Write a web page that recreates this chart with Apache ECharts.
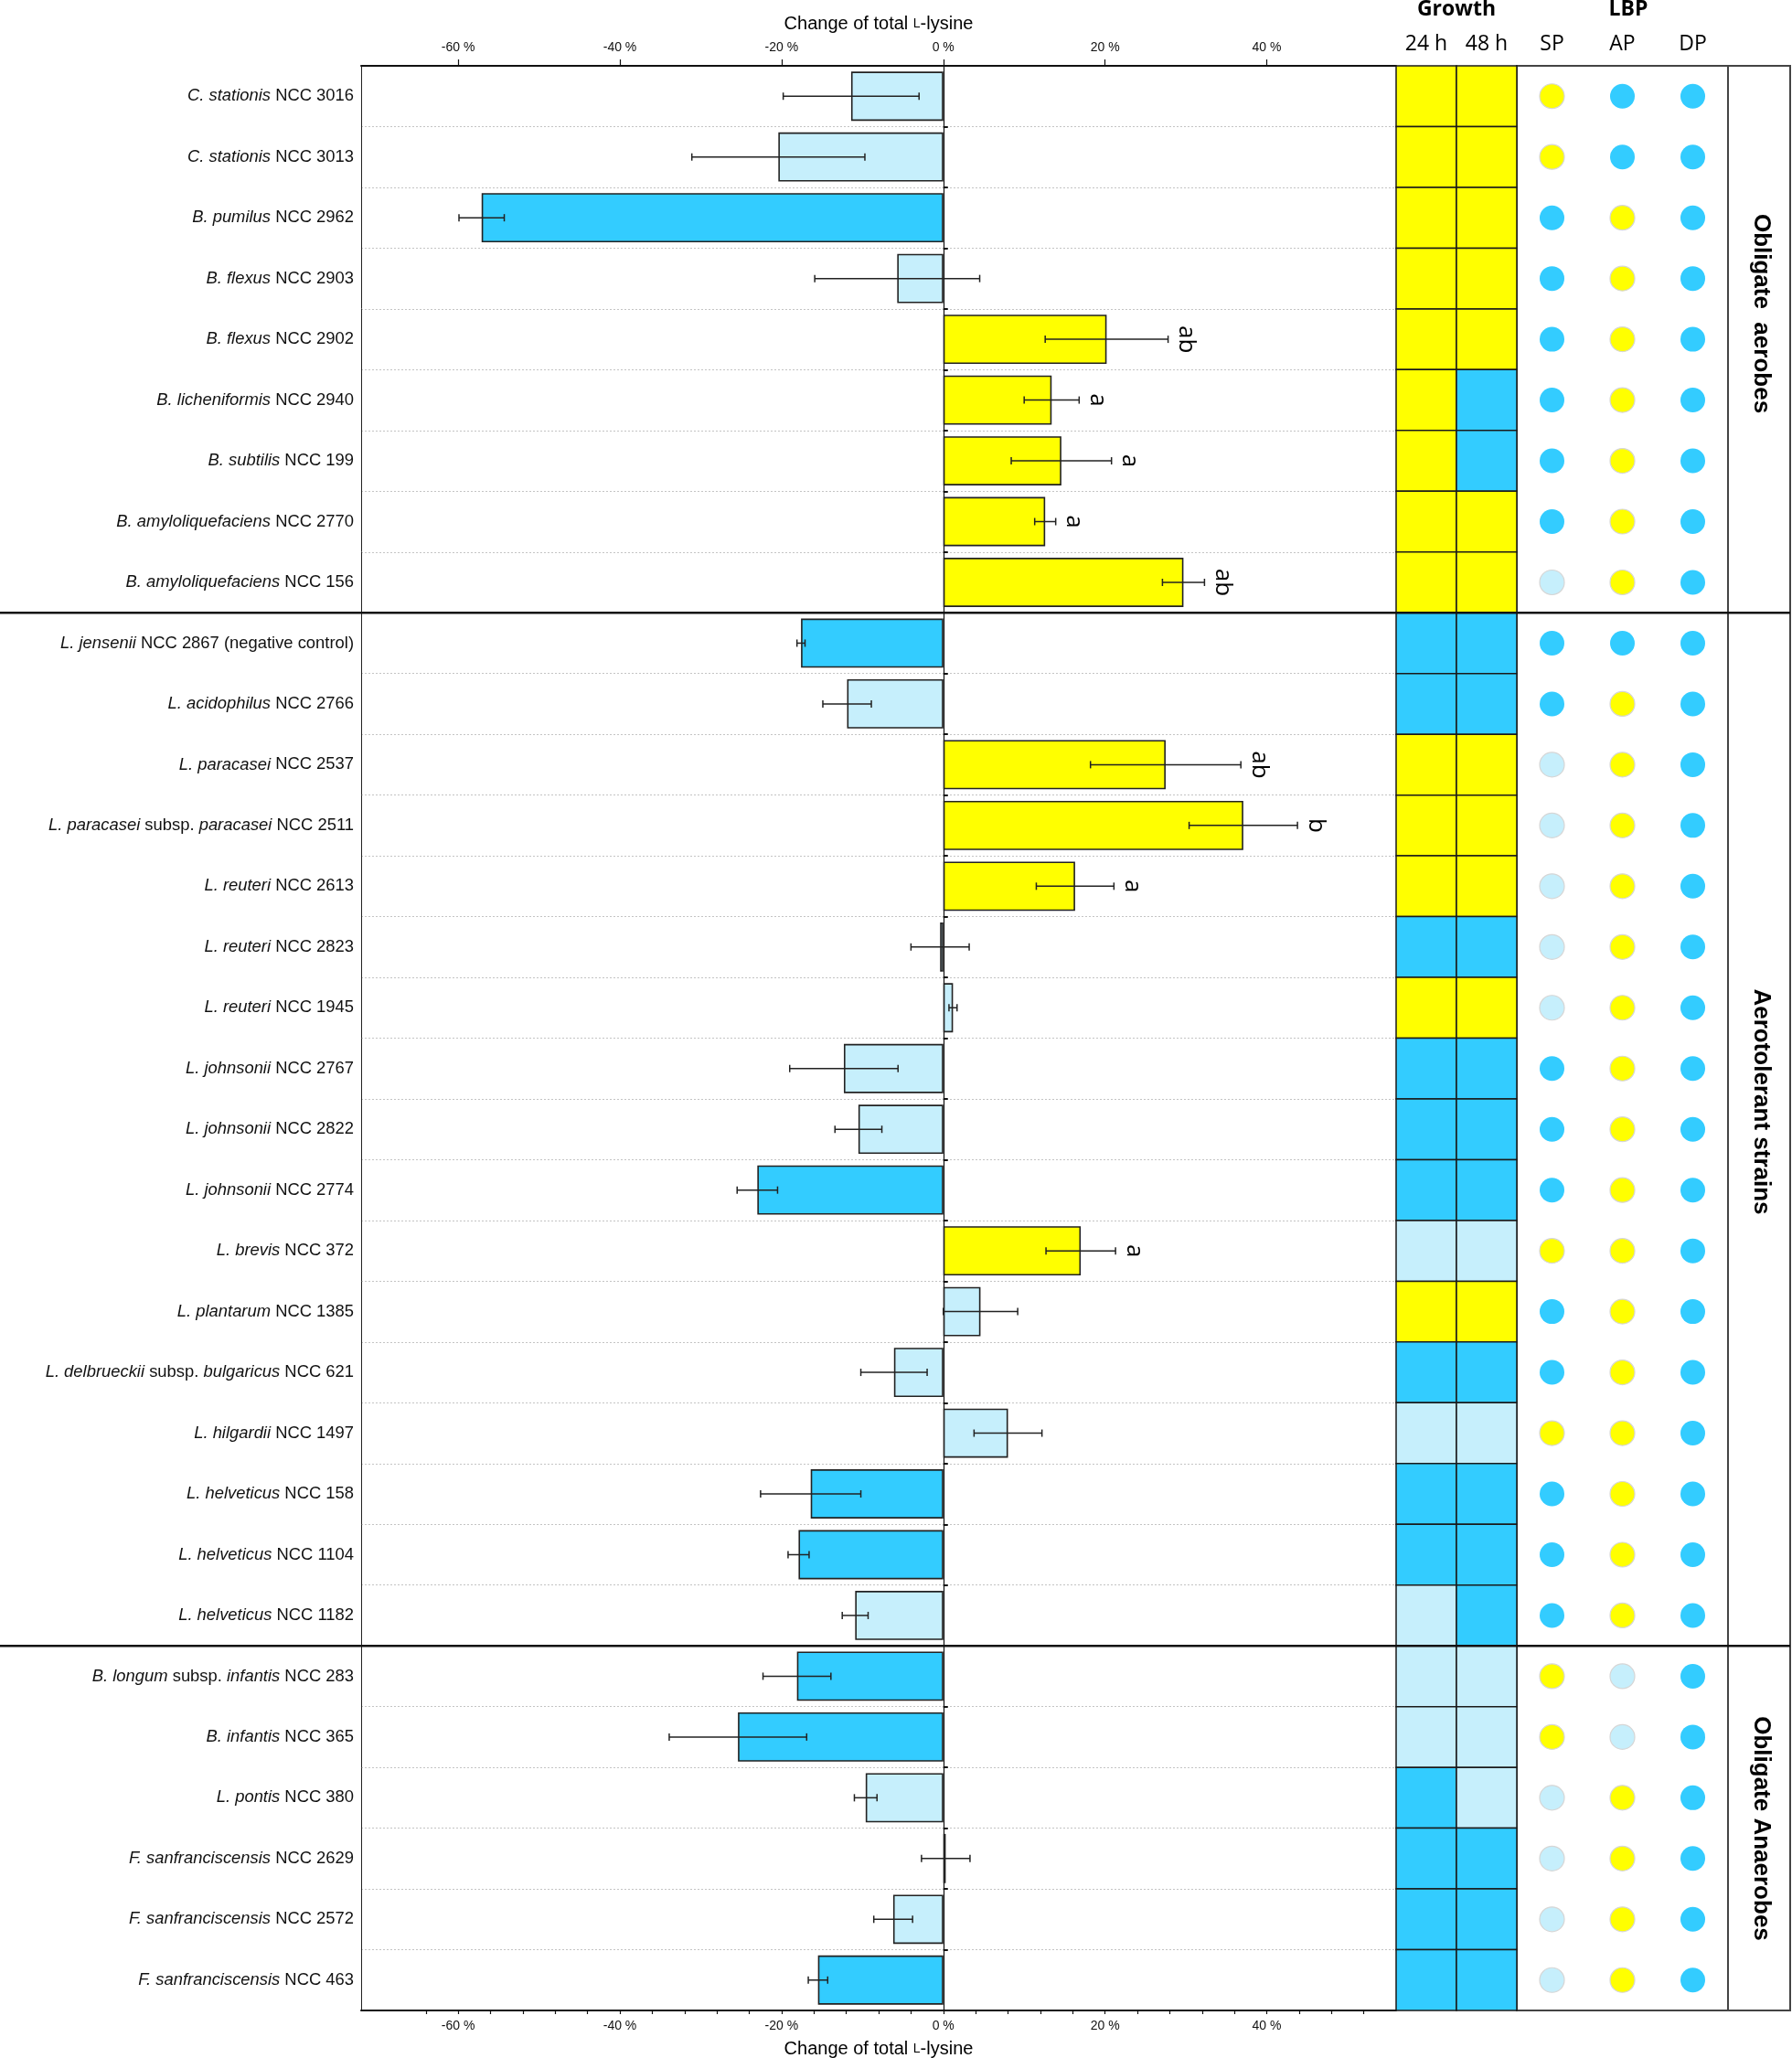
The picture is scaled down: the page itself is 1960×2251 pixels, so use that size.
<!DOCTYPE html>
<html><head><meta charset="utf-8">
<script src="https://cdn.jsdelivr.net/npm/echarts@6/dist/echarts.min.js"></script>
<style>html,body{margin:0;padding:0;background:#fff}#c{width:1960px;height:2251px}</style>
</head><body><div id="c"></div>
<script>
// ---------------- DATA ----------------
const strains = [
  'C. stationis NCC 3016','C. stationis NCC 3013','B. pumilus NCC 2962','B. flexus NCC 2903','B. flexus NCC 2902',
  'B. licheniformis NCC 2940','B. subtilis NCC 199','B. amyloliquefaciens NCC 2770','B. amyloliquefaciens NCC 156',
  'L. jensenii NCC 2867 (negative control)','L. acidophilus NCC 2766','L. paracasei NCC 2537','L. paracasei subsp. paracasei NCC 2511',
  'L. reuteri NCC 2613','L. reuteri NCC 2823','L. reuteri NCC 1945','L. johnsonii NCC 2767','L. johnsonii NCC 2822','L. johnsonii NCC 2774',
  'L. brevis NCC 372','L. plantarum NCC 1385','L. delbrueckii subsp. bulgaricus NCC 621','L. hilgardii NCC 1497',
  'L. helveticus NCC 158','L. helveticus NCC 1104','L. helveticus NCC 1182',
  'B. longum subsp. infantis NCC 283','B. infantis NCC 365','L. pontis NCC 380',
  'F. sanfranciscensis NCC 2629','F. sanfranciscensis NCC 2572','F. sanfranciscensis NCC 463'
];
const change = [-11.4,-20.4,-57.1,-5.7,20.2,13.4,14.6,12.6,29.7,
  -17.6,-11.9,27.5,37.1,16.3,-0.4,1.2,-12.3,-10.5,-23.0,17.0,4.6,-6.1,8.0,-16.4,-17.9,-10.9,
  -18.1,-25.4,-9.6,0.3,-6.2,-15.5];
const changeErr = [8.4,10.7,2.8,10.2,7.6,3.4,6.2,1.3,2.6,
  0.5,3.0,9.3,6.7,4.8,3.6,0.5,6.7,2.9,2.5,4.3,4.6,4.1,4.2,6.2,1.3,1.6,
  4.2,8.5,1.4,3.0,2.4,1.2];
// D = decrease (dark blue), L = no significant change (light blue), Y = increase (yellow)
const barClass = ['L','L','D','L','Y','Y','Y','Y','Y',
  'D','L','Y','Y','Y','L','L','L','L','D','Y','L','L','L','D','D','L',
  'D','D','L','L','L','D'];
const sigLetters = ['','','','','ab','a','a','a','ab',
  '','','ab','b','a','','','','','','a','','','','','','',
  '','','','','',''];
const growth24 = ['Y','Y','Y','Y','Y','Y','Y','Y','Y',
  'D','D','Y','Y','Y','D','Y','D','D','D','L','Y','D','L','D','D','L',
  'L','L','D','D','D','D'];
const growth48 = ['Y','Y','Y','Y','Y','D','D','Y','Y',
  'D','D','Y','Y','Y','D','Y','D','D','D','L','Y','D','L','D','D','D',
  'L','L','L','D','D','D'];
const lbpSP = ['Y','Y','D','D','D','D','D','D','L',
  'D','D','L','L','L','L','L','D','D','D','Y','D','D','Y','D','D','D',
  'Y','Y','L','L','L','L'];
const lbpAP = ['D','D','Y','Y','Y','Y','Y','Y','Y',
  'D','Y','Y','Y','Y','Y','Y','Y','Y','Y','Y','Y','Y','Y','Y','Y','Y',
  'L','L','Y','Y','Y','Y'];
const lbpDP = ['D','D','D','D','D','D','D','D','D',
  'D','D','D','D','D','D','D','D','D','D','D','D','D','D','D','D','D',
  'D','D','D','D','D','D'];
const growthCols = ['24 h','48 h'];
const lbpCols = ['SP','AP','DP'];
const groupNames = ['Obligate  aerobes','Aerotolerant strains','Obligate Anaerobes'];
const groupSizes = [9,17,6];
const xTickLabels = [-60,-40,-20,0,20,40];
const xMin = -72, xMax = 56;

// ---------------- STYLE / LAYOUT ----------------
const COL = {D:'#33CCFF', L:'#C6EFFC', Y:'#FFFF00'};
const TOP = 72, BOTTOM = 2199, H = 2251;
const PLOT_L = 395, PLOT_R = 1527, GROW_R = 1659, LBP_R = 1890, GRP_R = 1958;
const rowH = (BOTTOM - TOP) / strains.length;
const minorTicks = [];
for (let v = -64; v <= 52; v += 4) minorTicks.push(v);
const FONT = '"Liberation Sans", Arial, sans-serif';

function labelFmt(v) {
  const parts = v.split(' ');
  const idx = parts.indexOf('NCC');
  let out = '';
  parts.forEach((p, k) => {
    const t = (k ? ' ' : '') + p;
    out += (k < idx && p !== 'subsp.') ? '{i|' + t + '}' : '{n|' + t + '}';
  });
  return out;
}

const chart = echarts.init(document.getElementById('c'), null, {renderer: 'canvas'});

const growthData = [];
strains.forEach((s, i) => {
  growthData.push({value: [0, i], itemStyle: {color: COL[growth24[i]]}});
  growthData.push({value: [1, i], itemStyle: {color: COL[growth48[i]]}});
});
const lbpData = [];
strains.forEach((s, i) => {
  [lbpSP, lbpAP, lbpDP].forEach((arr, c) => {
    lbpData.push({value: [c, i], itemStyle: {color: COL[arr[i]], opacity: 1,
      borderColor: arr[i] === 'D' ? 'rgba(0,0,0,0)' : '#d6d6d6', borderWidth: 1.2}});
  });
});

const titleRich = {
  a: {fontSize: 20, fontFamily: FONT, color: '#000'},
  s: {fontSize: 14, fontFamily: FONT, color: '#000'}
};
const titleText = '{a|Change of total }{s|L}{a|-lysine}';

const option = {
  animation: false,
  backgroundColor: '#fff',
  grid: [
    {left: PLOT_L, top: TOP, width: PLOT_R - PLOT_L, bottom: H - BOTTOM, containLabel: false, outerBoundsMode: 'none'},
    {left: PLOT_R, top: TOP, width: GROW_R - PLOT_R, bottom: H - BOTTOM, containLabel: false, outerBoundsMode: 'none'},
    {left: GROW_R, top: TOP, width: LBP_R - GROW_R, bottom: H - BOTTOM, containLabel: false, outerBoundsMode: 'none',
     show: true, borderColor: '#444', borderWidth: 2, backgroundColor: 'transparent'}
  ],
  xAxis: [
    {type: 'value', gridIndex: 0, position: 'bottom', min: xMin, max: xMax,
     axisLine: {show: true, onZero: false, lineStyle: {color: '#111', width: 2}},
     axisTick: {show: true, customValues: minorTicks, length: 4, lineStyle: {color: '#111', width: 1.2}},
     axisLabel: {customValues: xTickLabels, formatter: v => v + ' %', fontSize: 14, fontFamily: FONT, color: '#111', margin: 10},
     splitLine: {show: false},
     name: titleText, nameLocation: 'middle', nameGap: 32, nameTextStyle: {rich: titleRich}},
    {type: 'value', gridIndex: 0, position: 'top', min: xMin, max: xMax,
     axisLine: {show: true, onZero: false, lineStyle: {color: '#111', width: 2}},
     axisTick: {show: true, customValues: xTickLabels, length: 7, lineStyle: {color: '#111', width: 1.2}},
     axisLabel: {customValues: xTickLabels, formatter: v => v + ' %', fontSize: 14, fontFamily: FONT, color: '#111', margin: 13},
     splitLine: {show: false},
     name: titleText, nameLocation: 'middle', nameGap: 36, nameTextStyle: {rich: titleRich}},
    {type: 'category', gridIndex: 1, position: 'top', data: growthCols,
     axisLine: {show: false}, axisTick: {show: false},
     axisLabel: {fontSize: 23, fontFamily: '"Open Sans", sans-serif', color: '#000', margin: 12}},
    {type: 'category', gridIndex: 2, position: 'top', data: lbpCols,
     axisLine: {show: false}, axisTick: {show: false},
     axisLabel: {fontSize: 23, fontFamily: '"Open Sans", sans-serif', color: '#000', margin: 12}}
  ],
  yAxis: [
    {type: 'category', gridIndex: 0, data: strains, inverse: true, position: 'left',
     axisLine: {show: true, onZero: false, lineStyle: {color: '#222', width: 1}},
     axisTick: {show: false},
     splitLine: {show: true, lineStyle: {color: '#c4c4c4', type: [2, 2], width: 1}},
     axisLabel: {margin: 8, formatter: labelFmt,
       rich: {i: {fontStyle: 'italic', fontSize: 18.4, fontFamily: FONT, color: '#111'},
              n: {fontSize: 18.4, fontFamily: FONT, color: '#111'}}}},
    {type: 'category', gridIndex: 0, data: strains, inverse: true, position: 'left',
     axisLine: {show: true, onZero: true, lineStyle: {color: '#111', width: 1.2}},
     axisTick: {show: true, inside: true, length: 5, lineStyle: {color: '#111', width: 2}},
     axisLabel: {show: false}, splitLine: {show: false}},
    {type: 'category', gridIndex: 1, data: strains, inverse: true, show: false},
    {type: 'category', gridIndex: 2, data: strains, inverse: true, show: false}
  ],
  series: [
    {type: 'bar', xAxisIndex: 0, yAxisIndex: 0, barWidth: '81%', z: 3,
     itemStyle: {borderColor: '#222', borderWidth: 1.6},
     data: change.map((v, i) => ({value: v, itemStyle: {color: COL[barClass[i]]}}))},
    {type: 'custom', xAxisIndex: 0, yAxisIndex: 0, z: 4,
     encode: {x: 0, y: 1},
     data: change.map((v, i) => [v, i, changeErr[i]]),
     renderItem: function (params, api) {
       const m = api.value(0), i = api.value(1), e = api.value(2);
       const a = api.coord([m - e, i]), b = api.coord([m + e, i]);
       const cap = 4;
       const st = {stroke: '#222', lineWidth: 1.5};
       const ch = [
         {type: 'line', shape: {x1: a[0], y1: a[1], x2: b[0], y2: b[1]}, style: st},
         {type: 'line', shape: {x1: a[0], y1: a[1] - cap, x2: a[0], y2: a[1] + cap}, style: st},
         {type: 'line', shape: {x1: b[0], y1: b[1] - cap, x2: b[0], y2: b[1] + cap}, style: st}
       ];
       const s = sigLetters[params.dataIndex];
       if (s) ch.push({type: 'text', x: b[0] + 20, y: b[1], rotation: -Math.PI / 2,
         style: {text: s, fill: '#000', font: '26px "Open Sans", sans-serif', align: 'center', verticalAlign: 'middle'}});
       return {type: 'group', children: ch};
     }},
    {type: 'custom', xAxisIndex: 2, yAxisIndex: 2, z: 2,
     encode: {x: 0, y: 1},
     data: growthData,
     renderItem: function (params, api) {
       const p = api.coord([api.value(0), api.value(1)]);
       const s = api.size([1, 1]);
       return {type: 'rect', shape: {x: p[0] - s[0] / 2, y: p[1] - s[1] / 2, width: s[0], height: s[1]},
         style: {fill: api.visual('color'), stroke: '#1a1a1a', lineWidth: 1.5}};
     }},
    {type: 'scatter', xAxisIndex: 3, yAxisIndex: 3, symbol: 'circle', symbolSize: 27, z: 3,
     itemStyle: {opacity: 1},
     data: lbpData}
  ]
};
chart.setOption(option);

// ---------------- FRAME, HEADERS, GROUP LABELS ----------------
const graphics = [];
graphics.push({type: 'text', x: (PLOT_R + GROW_R) / 2, y: 10,
  style: {text: 'Growth', font: 'bold 23px "Open Sans", sans-serif', fill: '#000', align: 'center', verticalAlign: 'middle'}});
graphics.push({type: 'text', x: 1781, y: 10,
  style: {text: 'LBP', font: 'bold 23px "Open Sans", sans-serif', fill: '#000', align: 'center', verticalAlign: 'middle'}});
graphics.push({type: 'rect', shape: {x: LBP_R, y: TOP, width: GRP_R - LBP_R, height: BOTTOM - TOP},
  style: {fill: 'none', stroke: '#444', lineWidth: 2}, z: 10});
const labelY = [343, 1205, 2000];
let acc = 0;
groupSizes.forEach((n, g) => {
  acc += n;
  if (g < groupSizes.length - 1) {
    const y = TOP + acc * rowH;
    graphics.push({type: 'line', shape: {x1: 0, y1: y, x2: GRP_R, y2: y},
      style: {stroke: '#111', lineWidth: 2.5}, z: 10});
  }
  graphics.push({type: 'text', x: 1926, y: labelY[g], rotation: -Math.PI / 2, z: 10,
    style: {text: groupNames[g], font: 'bold 26px ' + FONT, fill: '#000', align: 'center', verticalAlign: 'middle'}});
});
chart.setOption({graphic: graphics});
</script>
</body></html>
